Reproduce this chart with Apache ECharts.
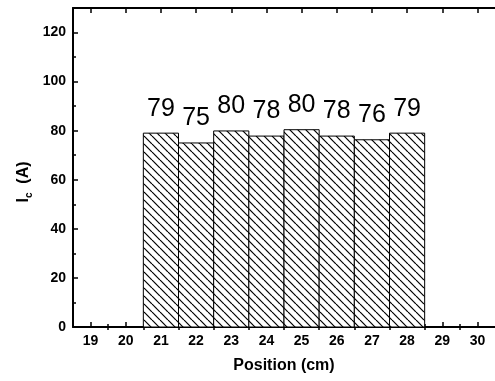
<!DOCTYPE html>
<html><head><meta charset="utf-8">
<script src="https://cdn.jsdelivr.net/npm/echarts@6/dist/echarts.min.js"></script>
<style>html,body{margin:0;padding:0;background:#fff}#c{width:495px;height:381px}</style>
</head><body><div id="c"></div>
<script>
// ---- data ----
const positions = [21, 22, 23, 24, 25, 26, 27, 28];
const currents = [79, 75, 79.9, 77.8, 80.4, 77.8, 76.3, 79];
const valueLabels = ['79', '75', '80', '78', '80', '78', '76', '79'];
const xMajorTicks = [19, 20, 21, 22, 23, 24, 25, 26, 27, 28, 29, 30];
const xMinorTicks = [19.5, 20.5, 21.5, 22.5, 23.5, 24.5, 25.5, 26.5, 27.5, 28.5, 29.5];
const yMajorTicks = [0, 20, 40, 60, 80, 100, 120];
const yMinorTicks = [10, 30, 50, 70, 90, 110];
const xTitle = 'Position (cm)';

const FONT = '"Liberation Sans", Arial, Helvetica, sans-serif';

// hatch pattern "\\\"
const s = 8;
const pc = document.createElement('canvas');
pc.width = s; pc.height = s;
const g = pc.getContext('2d');
g.fillStyle = '#fff'; g.fillRect(0, 0, s, s);
g.strokeStyle = '#000'; g.lineWidth = 1.2;
for (let k = -1; k <= 1; k++) { g.beginPath(); g.moveTo(k * s, 0); g.lineTo(k * s + s, s); g.stroke(); }
const hatch = { image: pc, repeat: 'repeat' };

const chart = echarts.init(document.getElementById('c'), null, { renderer: 'canvas' });
const axisLine = { show: true, onZero: false, lineStyle: { color: '#000', width: 2 } };
const noLine = { show: false };
function xAx(pos, ticks, len, labels) {
  return {
    type: 'value', position: pos, min: 18.5, max: 30.5,
    axisLine: labels !== null ? axisLine : noLine,
    splitLine: { show: false },
    axisTick: { show: true, inside: true, length: len, customValues: ticks, lineStyle: { color: '#000', width: 1.5 } },
    axisLabel: labels ? { show: true, customValues: labels, color: '#000', fontWeight: 'bold', fontSize: 14, fontFamily: FONT, margin: 7 } : { show: false }
  };
}
function yAx(pos, ticks, len, labels) {
  return {
    type: 'value', position: pos, min: 0, max: 130,
    axisLine: labels !== null ? axisLine : noLine,
    splitLine: { show: false },
    axisTick: { show: true, inside: true, length: len, customValues: ticks, lineStyle: { color: '#000', width: 1.5 } },
    axisLabel: labels ? { show: true, customValues: labels, color: '#000', fontWeight: 'bold', fontSize: 14, fontFamily: FONT, margin: 7 } : { show: false }
  };
}
const xMain = xAx('bottom', xMajorTicks, 5, xMajorTicks);
xMain.name = xTitle;
xMain.nameLocation = 'middle';
xMain.nameGap = 31;
xMain.nameTextStyle = { color: '#000', fontWeight: 'bold', fontSize: 16, fontFamily: FONT };

const option = {
  animation: false,
  backgroundColor: '#fff',
  grid: { left: 73, top: 8, width: 425, height: 319 },
  xAxis: [
    xMain,
    xAx('bottom', xMinorTicks, 3, null),
    xAx('top', xMajorTicks, 5, false),
    xAx('top', xMinorTicks, 3, null)
  ],
  yAxis: [
    yAx('left', yMajorTicks, 5, yMajorTicks),
    yAx('left', yMinorTicks, 3, null)
  ],
  graphic: [{
    type: 'text', x: 24, y: 182, rotation: Math.PI / 2,
    style: {
      text: '{b|I}{s|c}{b|  (A)}',
      align: 'center', verticalAlign: 'middle',
      rich: {
        b: { fontFamily: FONT, fontWeight: 'bold', fontSize: 16, fill: '#000', lineHeight: 20 },
        s: { fontFamily: FONT, fontWeight: 'bold', fontSize: 10, fill: '#000', verticalAlign: 'bottom', lineHeight: 20 }
      }
    }
  }],
  series: [{
    type: 'custom',
    xAxisIndex: 0, yAxisIndex: 0,
    data: positions.map((p, i) => [p, currents[i]]),
    renderItem: function (params, api) {
      const x = api.value(0), y = api.value(1);
      const p0 = api.coord([x - 0.5, y]);
      const p1 = api.coord([x + 0.5, 0]);
      return {
        type: 'group', children: [
          { type: 'rect', shape: { x: p0[0], y: p0[1], width: p1[0] - p0[0], height: p1[1] - p0[1] },
            style: { fill: hatch, stroke: '#000', lineWidth: 1 } },
          { type: 'text', x: (p0[0] + p1[0]) / 2, y: p0[1] - 12,
            style: { text: valueLabels[params.dataIndex], fontFamily: FONT, fontSize: 25, fill: '#000', align: 'center', verticalAlign: 'bottom' } }
        ]
      };
    }
  }]
};
chart.setOption(option);
</script></body></html>
